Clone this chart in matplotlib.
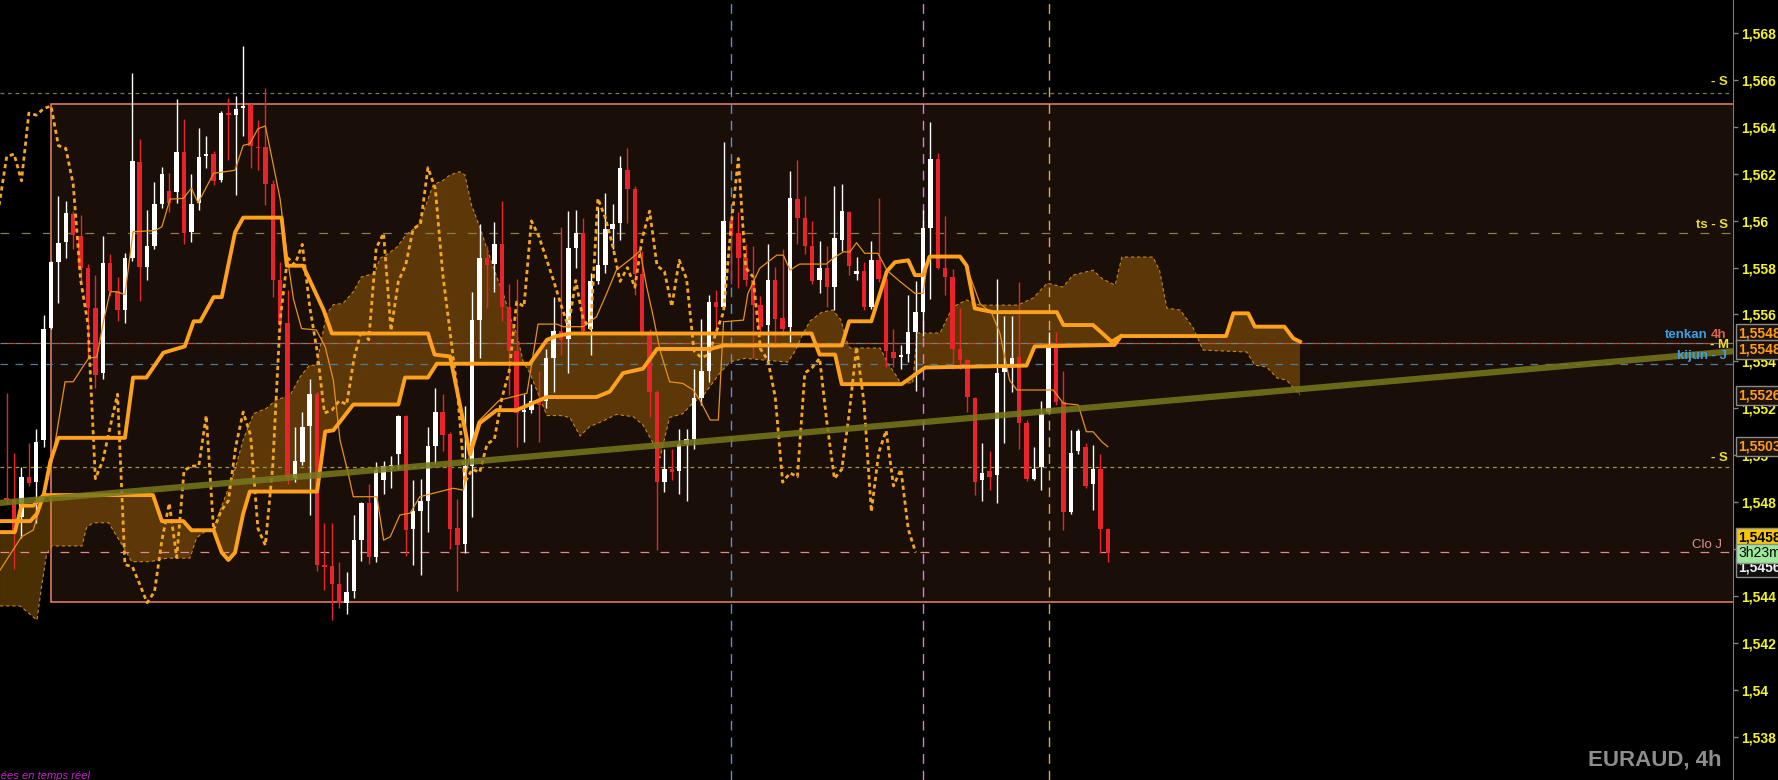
import numpy as np
import matplotlib
matplotlib.use("Agg")
import matplotlib.pyplot as plt
from matplotlib.patches import Rectangle
from matplotlib.ticker import FuncFormatter

plt.rcParams['font.family'] = ['Liberation Sans', 'DejaVu Sans']

# ---- EURAUD 4h candles (oldest first)
opens = [1.54818, 1.54809, 1.54735, 1.54908, 1.54885, 1.55066, 1.55543, 1.55823, 1.55910, 1.56029,
         1.55934, 1.55800, 1.55626, 1.55350, 1.55819, 1.55700, 1.55618, 1.55842, 1.56249, 1.55804,
         1.55891, 1.56073, 1.56126, 1.56123, 1.56292, 1.55950, 1.56076, 1.56276, 1.56284, 1.56174,
         1.56458, 1.56451, 1.56481, 1.56494, 1.56313, 1.56313, 1.56155, 1.55748, 1.55563, 1.54904,
         1.54971, 1.55124, 1.55263, 1.54533, 1.54527, 1.54450, 1.54371, 1.54419, 1.54640, 1.54795,
         1.54564, 1.54896, 1.54953, 1.55006, 1.55169, 1.54684, 1.54763, 1.54806, 1.55038, 1.55184,
         1.55090, 1.54690, 1.54621, 1.54956, 1.55576, 1.55842, 1.55815, 1.55899, 1.55634, 1.55445,
         1.55184, 1.55192, 1.55232, 1.55232, 1.55413, 1.55531, 1.55495, 1.55883, 1.55946, 1.55539,
         1.55741, 1.55812, 1.55965, 1.55989, 1.56218, 1.56136, 1.55773, 1.55524, 1.55268, 1.54885,
         1.54940, 1.54932, 1.55047, 1.55069, 1.55243, 1.55361, 1.55653, 1.55634, 1.55999, 1.55946,
         1.55839, 1.55745, 1.55642, 1.55555, 1.55745, 1.55584, 1.55547, 1.56092, 1.56013, 1.55894,
         1.55745, 1.55800, 1.55716, 1.55918, 1.56036, 1.55773, 1.55784, 1.55634, 1.55831, 1.55752,
         1.55440, 1.55420, 1.55432, 1.55524, 1.55610, 1.55969, 1.56265, 1.55800, 1.55760, 1.55453,
         1.55405, 1.55243, 1.54893, 1.54932, 1.54916, 1.55355, 1.55385, 1.55418, 1.55137, 1.54900,
         1.54948, 1.55184, 1.55461, 1.55227, 1.54759, 1.55019, 1.55035, 1.54877, 1.54940, 1.54687]
highs = [1.55266, 1.55011, 1.54948, 1.55050, 1.55113, 1.55599, 1.55830, 1.56107, 1.56084, 1.56040,
         1.56025, 1.55815, 1.55768, 1.55934, 1.55858, 1.55760, 1.55863, 1.56628, 1.56347, 1.56044,
         1.56163, 1.56229, 1.56205, 1.56518, 1.56434, 1.56197, 1.56396, 1.56363, 1.56297, 1.56467,
         1.56521, 1.56530, 1.56746, 1.56500, 1.56431, 1.56565, 1.56174, 1.55823, 1.55705, 1.55121,
         1.55184, 1.55326, 1.55270, 1.54711, 1.54711, 1.54545, 1.54502, 1.54743, 1.54800, 1.54877,
         1.54971, 1.54976, 1.54995, 1.55170, 1.55170, 1.54893, 1.54900, 1.55121, 1.55287, 1.55259,
         1.55100, 1.54813, 1.55211, 1.55697, 1.55984, 1.55894, 1.55994, 1.56084, 1.55732, 1.55752,
         1.55263, 1.55303, 1.55358, 1.55453, 1.55673, 1.55973, 1.56041, 1.56044, 1.56013, 1.55776,
         1.56057, 1.56118, 1.56073, 1.56276, 1.56312, 1.56147, 1.55871, 1.55540, 1.55280, 1.55027,
         1.55027, 1.55113, 1.55113, 1.55366, 1.55579, 1.55681, 1.55705, 1.56336, 1.56029, 1.56036,
         1.55900, 1.55894, 1.55680, 1.55902, 1.55804, 1.55879, 1.56213, 1.56257, 1.56104, 1.55997,
         1.55915, 1.55894, 1.56147, 1.56155, 1.56041, 1.55847, 1.55823, 1.55915, 1.56095, 1.55784,
         1.55539, 1.55468, 1.55681, 1.55741, 1.56044, 1.56420, 1.56289, 1.56021, 1.55792, 1.55626,
         1.55410, 1.55250, 1.55050, 1.55019, 1.55752, 1.55595, 1.55595, 1.55737, 1.55150, 1.55035,
         1.55232, 1.55524, 1.55524, 1.55358, 1.55108, 1.55113, 1.55053, 1.55043, 1.55006, 1.54690]
lows = [1.54790, 1.54514, 1.54648, 1.54870, 1.54711, 1.55035, 1.55540, 1.55647, 1.55839, 1.55880,
        1.55729, 1.55413, 1.55287, 1.55326, 1.55680, 1.55571, 1.55563, 1.55827, 1.55658, 1.55748,
        1.55879, 1.56052, 1.56036, 1.56076, 1.55902, 1.55910, 1.56047, 1.56226, 1.56151, 1.56163,
        1.56257, 1.56110, 1.56360, 1.56226, 1.56218, 1.56068, 1.55674, 1.55532, 1.54877, 1.54885,
        1.54960, 1.54743, 1.54506, 1.54427, 1.54296, 1.54348, 1.54321, 1.54391, 1.54550, 1.54537,
        1.54545, 1.54833, 1.54861, 1.54940, 1.54569, 1.54530, 1.54490, 1.54672, 1.54963, 1.55019,
        1.54601, 1.54419, 1.54585, 1.54735, 1.55413, 1.55626, 1.55697, 1.55574, 1.55255, 1.55035,
        1.55058, 1.55180, 1.55058, 1.55200, 1.55271, 1.55429, 1.55350, 1.55800, 1.55523, 1.55426,
        1.55729, 1.55779, 1.55879, 1.55918, 1.55989, 1.55685, 1.55508, 1.55161, 1.54596, 1.54842,
        1.54893, 1.54833, 1.54806, 1.55027, 1.55216, 1.55311, 1.55531, 1.55630, 1.55729, 1.55713,
        1.55720, 1.55413, 1.55510, 1.55397, 1.55461, 1.55508, 1.55484, 1.55902, 1.55858, 1.55729,
        1.55692, 1.55634, 1.55618, 1.55871, 1.55768, 1.55745, 1.55618, 1.55622, 1.55737, 1.55374,
        1.55374, 1.55369, 1.55397, 1.55274, 1.55508, 1.55666, 1.55792, 1.55681, 1.55366, 1.55366,
        1.55184, 1.54829, 1.54806, 1.54853, 1.54798, 1.55050, 1.55271, 1.55027, 1.54890, 1.54893,
        1.54853, 1.55176, 1.55216, 1.54680, 1.54750, 1.55003, 1.54861, 1.54766, 1.54585, 1.54545]
closes = [1.54809, 1.54672, 1.54908, 1.54880, 1.55058, 1.55539, 1.55823, 1.55905, 1.56032, 1.55937,
          1.55800, 1.55626, 1.55342, 1.55819, 1.55700, 1.55618, 1.55842, 1.56253, 1.55804, 1.55894,
          1.56071, 1.56199, 1.56076, 1.56292, 1.55946, 1.56071, 1.56273, 1.56284, 1.56170, 1.56459,
          1.56450, 1.56478, 1.56489, 1.56320, 1.56308, 1.56155, 1.55748, 1.55558, 1.54900, 1.54976,
          1.55121, 1.55260, 1.54533, 1.54525, 1.54450, 1.54371, 1.54418, 1.54637, 1.54795, 1.54564,
          1.54935, 1.54953, 1.54955, 1.55169, 1.54680, 1.54763, 1.54806, 1.55038, 1.55184, 1.55085,
          1.54687, 1.54616, 1.54953, 1.55576, 1.55842, 1.55812, 1.55899, 1.55634, 1.55445, 1.55180,
          1.55192, 1.55232, 1.55216, 1.55413, 1.55531, 1.55492, 1.55883, 1.55946, 1.55531, 1.55741,
          1.55812, 1.55965, 1.55986, 1.56226, 1.56136, 1.55773, 1.55524, 1.55268, 1.54885, 1.54940,
          1.54927, 1.55047, 1.55069, 1.55243, 1.55358, 1.55653, 1.55634, 1.55999, 1.55934, 1.55839,
          1.55745, 1.55642, 1.55547, 1.55745, 1.55579, 1.55539, 1.56095, 1.56013, 1.55894, 1.55741,
          1.55800, 1.55716, 1.55926, 1.56041, 1.55808, 1.55784, 1.55634, 1.55831, 1.55752, 1.55445,
          1.55416, 1.55429, 1.55524, 1.55610, 1.55969, 1.56265, 1.55800, 1.55760, 1.55453, 1.55405,
          1.55248, 1.54885, 1.54924, 1.54908, 1.55350, 1.55374, 1.55413, 1.55137, 1.54900, 1.54940,
          1.55176, 1.55461, 1.55227, 1.54759, 1.55011, 1.55105, 1.54869, 1.54940, 1.54684, 1.54585]

# ---- thick senkou lines (x = bar index, y = price)
span_a_x = [-0.9, 1.1, 2.0, 3.6, 5.0, 19.8, 21.0, 23.9, 25.0, 28.0, 29.1, 30.0, 30.9, 32.0, 32.9,
            42.0, 43.1, 44.2, 46.9, 53.0, 53.9, 57.0, 58.2, 70.8, 73.1, 74.4, 76.2, 108.9, 110.0,
            112.1, 113.0, 121.1, 122.5, 124.3, 138.0, 139.1, 149.9, 150.8, 165.0, 166.0, 168.0,
            168.9, 172.9, 174.1, 175.0]
span_a_y = [1.54672, 1.54672, 1.54785, 1.54785, 1.54830, 1.54830, 1.54719, 1.54719, 1.54680, 1.54680,
            1.54585, 1.54553, 1.54585, 1.54751, 1.54845, 1.54845, 1.55101, 1.55106, 1.55216, 1.55216,
            1.55331, 1.55331, 1.55390, 1.55390, 1.55492, 1.55508, 1.55519, 1.55519, 1.55429, 1.55429,
            1.55303, 1.55303, 1.55334, 1.55374, 1.55382, 1.55464, 1.55470, 1.55508, 1.55508, 1.55605,
            1.55605, 1.55548, 1.55548, 1.55498, 1.55484]
span_b_x = [-0.9, 3.2, 4.1, 5.0, 5.9, 7.0, 16.0, 17.1, 18.9, 21.2, 24.1, 25.3, 26.2, 28.0, 29.1,
            30.9, 32.0, 37.2, 37.9, 40.1, 42.9, 44.0, 57.0, 57.9, 60.0, 62.7, 64.0, 66.3, 69.0, 71.9,
            73.1, 79.8, 81.6, 83.4, 86.1, 88.0, 95.2, 97.0, 113.0, 114.0, 117.0, 119.1, 120.2, 122.0,
            122.9, 124.0, 124.9, 129.0, 129.9, 131.0, 133.5, 142.1, 143.0, 147.0, 148.4, 149.5, 150.8]
span_b_y = [1.54719, 1.54719, 1.54751, 1.54830, 1.54972, 1.55074, 1.55074, 1.55331, 1.55331, 1.55437,
            1.55464, 1.55571, 1.55571, 1.55674, 1.55674, 1.55950, 1.56013, 1.56013, 1.55808, 1.55808,
            1.55618, 1.55519, 1.55519, 1.55429, 1.55421, 1.55003, 1.55137, 1.55192, 1.55192, 1.55232,
            1.55248, 1.55248, 1.55271, 1.55350, 1.55369, 1.55453, 1.55453, 1.55468, 1.55468, 1.55571,
            1.55571, 1.55784, 1.55823, 1.55831, 1.55768, 1.55768, 1.55847, 1.55847, 1.55808, 1.55626,
            1.55610, 1.55610, 1.55555, 1.55555, 1.55516, 1.55484, 1.55508]

# ---- cloud dashed edge (the other side of the cloud is span A)
span_d_x = [-0.9, 1.8, 3.6, 4.1, 4.7, 5.4, 6.1, 10.2, 10.8, 11.7, 13.8, 14.7, 15.8, 16.9, 19.4,
            21.7, 24.8, 25.7, 27.1, 28.0, 28.9, 30.7, 32.0, 33.4, 35.2, 36.5, 38.3, 39.7, 41.0, 41.9,
            43.3, 44.2, 45.5, 46.9, 48.0, 49.8, 50.5, 51.4, 52.8, 54.1, 55.5, 56.4, 57.7, 59.1, 60.0,
            61.3, 62.0, 62.9, 64.0, 64.9, 66.3, 67.2, 68.1, 69.0, 69.9, 70.8, 73.1, 74.9, 76.2, 77.6,
            78.9, 80.7, 82.5, 84.8, 86.1, 87.5, 88.4, 89.7, 91.5, 92.9, 94.3, 96.5, 97.9, 99.9, 105.7,
            106.7, 107.6, 108.7, 110.3, 111.8, 112.9, 113.6, 114.1, 118.2, 119.2, 120.5, 120.9, 122.6,
            123.2, 126.3, 128.0, 129.9, 131.7, 136.8, 138.9, 140.8, 142.9, 144.3, 147.0, 148.3, 150.0,
            150.9, 155.1, 156.0, 157.0, 158.8, 160.5, 161.9, 167.8, 168.9, 170.5, 171.9, 173.2, 175.0]
span_d_y = [1.54357, 1.54357, 1.54310, 1.54297, 1.54436, 1.54578, 1.54613, 1.54613, 1.54691, 1.54712,
            1.54712, 1.54664, 1.54609, 1.54546, 1.54546, 1.54561, 1.54561, 1.54648, 1.54680, 1.54688,
            1.54766, 1.54917, 1.55066, 1.55177, 1.55201, 1.55237, 1.55253, 1.55334, 1.55385, 1.55382,
            1.55603, 1.55642, 1.55647, 1.55697, 1.55760, 1.55776, 1.55839, 1.55855, 1.55887, 1.55942,
            1.55974, 1.56038, 1.56152, 1.56173, 1.56195, 1.56209, 1.56195, 1.56067, 1.55974, 1.55889,
            1.55761, 1.55690, 1.55590, 1.55520, 1.55398, 1.55350, 1.55169, 1.55169, 1.55161, 1.55082,
            1.55122, 1.55146, 1.55174, 1.55164, 1.55129, 1.55050, 1.54988, 1.55161, 1.55177, 1.55224,
            1.55256, 1.55350, 1.55398, 1.55413, 1.55397, 1.55444, 1.55508, 1.55572, 1.55610, 1.55619,
            1.55576, 1.55491, 1.55457, 1.55457, 1.55393, 1.55333, 1.55308, 1.55308, 1.55521, 1.55521,
            1.55632, 1.55662, 1.55640, 1.55640, 1.55670, 1.55734, 1.55717, 1.55768, 1.55789, 1.55751,
            1.55725, 1.55845, 1.55845, 1.55789, 1.55627, 1.55619, 1.55546, 1.55448, 1.55440, 1.55384,
            1.55376, 1.55329, 1.55320, 1.55256]

# ---- thin tenkan line
tenkan_x = [-0.9, 2.0, 3.6, 4.9, 6.1, 7.9, 9.0, 10.2, 11.1, 12.2, 13.1, 14.0, 14.9, 16.0, 17.1,
            20.1, 21.0, 22.1, 23.9, 25.0, 25.9, 28.0, 30.9, 32.0, 32.9, 34.0, 35.0, 36.1, 37.0, 38.0,
            38.8, 39.9, 41.9, 43.1, 44.2, 45.1, 46.2, 46.9, 50.1, 51.0, 51.9, 53.2, 54.6, 55.9, 60.4,
            61.8, 62.9, 63.8, 65.8, 66.7, 70.4, 71.9, 74.4, 75.3, 78.0, 79.8, 81.0, 82.5, 84.8, 85.7,
            86.6, 87.5, 88.4, 89.7, 91.5, 92.9, 93.8, 95.2, 96.3, 97.0, 99.7, 100.3, 101.9, 104.2,
            105.1, 106.0, 107.3, 110.9, 111.8, 113.2, 114.1, 115.0, 116.1, 117.9, 119.1, 120.9, 122.9,
            124.0, 124.7, 129.0, 129.9, 131.7, 133.3, 134.4, 135.7, 136.7, 141.6, 143.0, 145.0, 146.1,
            147.0, 148.2, 149.0]
tenkan_y = [1.54510, 1.54652, 1.54681, 1.54821, 1.54966, 1.55313, 1.55313, 1.55372, 1.55414, 1.55418,
            1.55571, 1.55697, 1.55697, 1.55685, 1.55953, 1.55958, 1.55974, 1.56092, 1.56095, 1.56139,
            1.56076, 1.56202, 1.56215, 1.56321, 1.56328, 1.56392, 1.56404, 1.56234, 1.56092, 1.55839,
            1.55666, 1.55540, 1.55534, 1.55462, 1.55320, 1.55065, 1.54924, 1.54823, 1.54823, 1.54638,
            1.54652, 1.54745, 1.54753, 1.54823, 1.54859, 1.54851, 1.55050, 1.55143, 1.55207, 1.55235,
            1.55264, 1.55559, 1.55559, 1.55548, 1.55548, 1.55590, 1.55676, 1.55789, 1.55846, 1.55872,
            1.55718, 1.55590, 1.55448, 1.55313, 1.55306, 1.55278, 1.55235, 1.55150, 1.55150, 1.55569,
            1.55576, 1.55690, 1.55797, 1.55853, 1.55853, 1.55789, 1.55815, 1.55815, 1.55839, 1.55867,
            1.55867, 1.55906, 1.55861, 1.55861, 1.55789, 1.55740, 1.55690, 1.55690, 1.55846, 1.55846,
            1.55803, 1.55647, 1.55605, 1.55520, 1.55320, 1.55278, 1.55278, 1.55221, 1.55214, 1.55100,
            1.55100, 1.55057, 1.55036]

chikou_shift = 26
range_start, range_bottom, range_top = 6, 1.54374, 1.56497
trend_a, trend_b = (0, 1.54799), (149, 1.55210)
event_bars = [98, 124, 141]
lvl_s_top, lvl_ts, lvl_tenkan4h = 1.56544, 1.55947, 1.55479
lvl_kijun, lvl_s_low, lvl_clo = 1.55389, 1.54950, 1.54587
tick_values = np.round(np.arange(1.538, 1.5681, 0.002), 3)

W, H = 1778, 780
fig = plt.figure(figsize=(W / 100, H / 100), dpi=100, facecolor='black')
ax = fig.add_axes([0, 0, 1733 / W, 1])
ax.set_facecolor('black')
ax.set_xlim(-0.906, 233.6)
ax.set_ylim(1.53615, 1.56941)

# range box
ax.add_patch(Rectangle((range_start, range_bottom), 400, range_top - range_bottom,
                       facecolor='#1a0e08', edgecolor='#ec8462', lw=1.1, zorder=0.5))

# cloud
cx = np.r_[span_a_x, span_d_x[::-1]]
cy = np.r_[span_a_y, span_d_y[::-1]]
ax.fill(cx, cy, color='#e38f0c', alpha=0.33, lw=0, zorder=1)
ax.plot(span_d_x, span_d_y, color='#c88418', lw=0.8, dashes=(3, 2.5), zorder=1.2)

# horizontal levels
ax.axhline(lvl_s_top, color='#7c7a52', lw=0.9, dashes=(3, 3), zorder=1.5)
ax.axhline(lvl_ts, color='#8a7c48', lw=0.9, dashes=(7, 10), zorder=1.5)
ax.axhline(lvl_tenkan4h, color='#7c7c7c', lw=0.9, dashes=(6, 6), zorder=1.5)
ax.axhline(lvl_tenkan4h, color='#b4503c', lw=0.9, dashes=(0, 6, 6, 0), zorder=1.5)
ax.axhline(lvl_kijun, color='#4a7c9c', lw=0.9, dashes=(6, 6), zorder=1.5)
ax.axhline(lvl_s_low, color='#a09a3c', lw=0.9, dashes=(3, 3), zorder=1.5)
ax.axhline(lvl_clo, color='#e48a8a', lw=0.9, dashes=(7, 9), zorder=1.5)

# event markers
for bar, col in zip(event_bars, ['#5a8ad8', '#d87ad8', '#dca848']):
    ax.axvline(bar, color=col, lw=1, dashes=(7, 5), zorder=1.5)

# candles
idx = np.arange(len(opens))
o, h, l, c = map(np.array, (opens, highs, lows, closes))
cols = np.where(c >= o, '#ffffff', '#e8242a')
ax.vlines(idx, l, h, colors=cols, lw=1, zorder=3)
ax.bar(idx, np.maximum(np.abs(c - o), 0.00006), bottom=np.minimum(o, c), width=0.6,
       color=cols, lw=0, zorder=3)

# indicator lines
ax.plot(tenkan_x, tenkan_y, color='#e8901c', lw=0.9, zorder=4)
ax.plot(idx - chikou_shift, closes, color='#f5a623', lw=2.0, dashes=(1.5, 1.2), zorder=4)
ax.plot(span_b_x, span_b_y, color='#ffa11c', lw=2.8, solid_joinstyle='round', zorder=5)
ax.plot(span_a_x, span_a_y, color='#ffa11c', lw=2.8, solid_joinstyle='round', zorder=5)
ax.axline(trend_a, trend_b, color='#78781c', alpha=0.85, lw=4.5, zorder=6)

# right price axis
ax.yaxis.tick_right()
ax.set_yticks(tick_values)
ax.yaxis.set_major_formatter(FuncFormatter(
    lambda v, _: f"{v:.3f}".rstrip('0').replace('.', ',')))
ax.tick_params(axis='y', colors='#808080', labelcolor='#f2f22a', length=3.5, width=1,
               pad=2, labelsize=10)
for t in ax.get_yticklabels():
    t.set_fontweight('bold')
ax.set_xticks([])
for side in ('top', 'left', 'bottom'):
    ax.spines[side].set_visible(False)
ax.spines['right'].set_color('#7a7a7a')


def fx(x):
    return x / W


def fy(y):
    return 1 - y / H


# level labels
lab = dict(fontsize=9.5, fontweight='bold', va='center', ha='right')
fig.text(fx(1728), fy(82), '- S', color='#e8e030', **lab)
fig.text(fx(1728), fy(225), 'ts - S', color='#e8e030', **lab)
fig.text(fx(1708), fy(335), 'tenkan', color='#3aa0e6', **lab)
fig.text(fx(1726), fy(335), '4h', color='#d9664a', **lab)
fig.text(fx(1729), fy(345), '- M', color='#f0e030', **lab)
fig.text(fx(1727), fy(356), 'kijun - J', color='#3aa0e6', **lab)
fig.text(fx(1728), fy(458), '- S', color='#e8e030', **lab)
fig.text(fx(1722), fy(545), 'Clo J', color='#e09090', fontsize=9.5, va='center', ha='right')

# price tags on the axis
tag = dict(fontsize=10, fontweight='bold', va='center', ha='left')
for y, txt in [(333, '1,5548'), (350, '1,5548'), (395, '1,5526'), (447, '1,5503')]:
    fig.text(fx(1738), fy(y), txt, color='#ff9a1f',
             bbox=dict(boxstyle='square,pad=0.18', fc='#1c1208', ec='#8a8a8a', lw=1), **tag)
fig.text(fx(1738), fy(567), '1,5456', color='#f0f0f0',
         bbox=dict(boxstyle='square,pad=0.18', fc='#101010', ec='#8a8a8a', lw=1), **tag)
fig.text(fx(1738), fy(537), '1,5458', color='black',
         bbox=dict(boxstyle='square,pad=0.18', fc='#f7c600', ec='#8a8a8a', lw=1), **tag)
fig.text(fx(1738), fy(553), '3h23m', color='black', fontsize=10, va='center', ha='left',
         bbox=dict(boxstyle='square,pad=0.18', fc='#9be89b', ec='#8a8a8a', lw=1))

fig.text(fx(1722), fy(760), 'EURAUD, 4h', color='#8e8e8e', fontsize=16, fontweight='bold',
         ha='right', va='center')
fig.text(fx(90), fy(776), 'Données en temps réel', color='#cc22cc', fontsize=8,
         style='italic', ha='right', va='center')

fig.savefig('out.png', dpi=100, facecolor='black')
